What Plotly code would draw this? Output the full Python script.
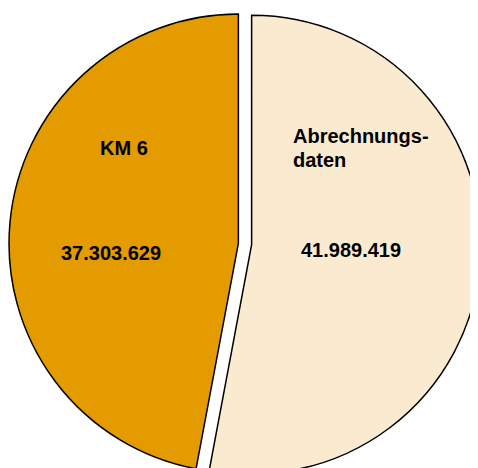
import plotly.graph_objects as go

labels = ["Abrechnungsdaten", "KM 6"]
label_lines = [["Abrechnungs-", "daten"], ["KM 6"]]
values = [41989419, 37303629]
colors = ["#FAEBD0", "#E49B00"]
pulls = [0.029, 0.029]


def de_fmt(v):
    return f"{v:,}".replace(",", ".")


fig = go.Figure(
    go.Pie(
        labels=labels,
        values=values,
        sort=False,
        direction="clockwise",
        rotation=0,
        pull=pulls,
        marker=dict(colors=colors, line=dict(color="black", width=1.5)),
        textinfo="none",
        hoverinfo="none",
        showlegend=False,
        domain=dict(x=[0, 1], y=[0, 1]),
    )
)

font = dict(family="Liberation Sans, Arial, sans-serif", size=20, color="black")
# page offset (body margin) compensation
OFF = 8
ann = [
    dict(text="<b>%s</b>" % label_lines[1][0], x=124, y=147.5, xanchor="center"),
    dict(text="<b>%s</b>" % de_fmt(values[1]), x=111, y=252.5, xanchor="center"),
    dict(text="<b>%s</b>" % label_lines[0][0], x=291, y=136, xanchor="left"),
    dict(text="<b>%s</b>" % label_lines[0][1], x=291, y=159.5, xanchor="left"),
    dict(text="<b>%s</b>" % de_fmt(values[0]), x=351, y=250, xanchor="center"),
]
W, H = 474, 472
annotations = []
for a in ann:
    annotations.append(dict(
        text=a["text"], x=(a["x"] - OFF) / W, y=1 - (a["y"] - OFF) / H,
        xref="paper", yref="paper",
        xanchor=a["xanchor"], yanchor="middle", align="left",
        showarrow=False, font=font,
    ))

fig.update_layout(
    width=W, height=H,
    margin=dict(l=0, r=0, t=0, b=0),
    paper_bgcolor="white",
    plot_bgcolor="white",
    annotations=annotations,
)

fig.write_html("out.html")
